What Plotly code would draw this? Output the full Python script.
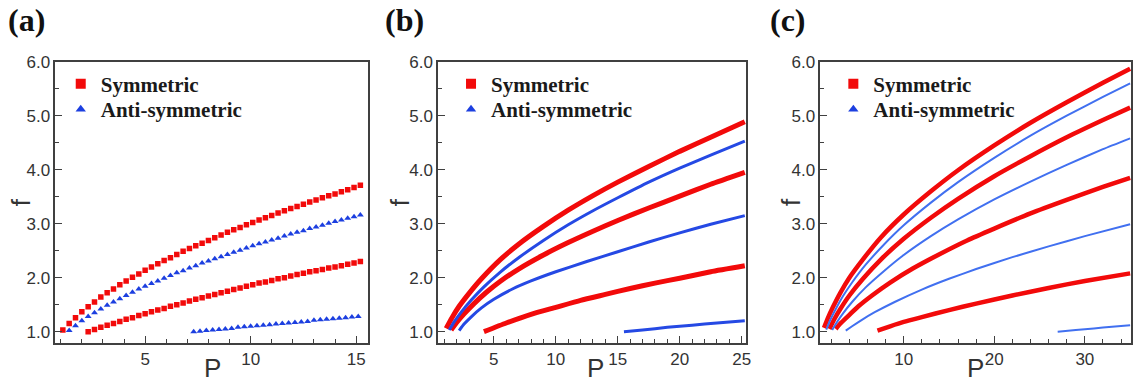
import plotly.graph_objects as go

W, H = 1144, 385

# ---------------- data ----------------
# panel (a): markers
A_SYM1_P = [1.1, 1.4, 1.7, 2.0, 2.3, 2.6, 2.9, 3.2, 3.5, 3.8, 4.1, 4.4, 4.7, 5.0, 5.3, 5.6,
            5.9, 6.2, 6.5, 6.8, 7.1, 7.4, 7.7, 8.0, 8.3, 8.6, 8.9, 9.2, 9.5, 9.8, 10.1, 10.4,
            10.7, 11.0, 11.3, 11.6, 11.9, 12.2, 12.5, 12.8, 13.1, 13.4, 13.7, 14.0, 14.3, 14.6,
            14.9, 15.2]
A_SYM1_F = [1.03, 1.15, 1.26, 1.37, 1.46, 1.55, 1.64, 1.72, 1.79, 1.87, 1.94, 2.01, 2.07, 2.14,
            2.20, 2.26, 2.32, 2.37, 2.43, 2.49, 2.54, 2.59, 2.64, 2.69, 2.74, 2.79, 2.84, 2.89,
            2.93, 2.98, 3.02, 3.07, 3.11, 3.15, 3.20, 3.24, 3.28, 3.32, 3.36, 3.40, 3.44, 3.48,
            3.52, 3.55, 3.59, 3.63, 3.67, 3.71]
A_ANTI1_P = [1.4, 1.7, 2.0, 2.3, 2.6, 2.9, 3.2, 3.5, 3.8, 4.1, 4.4, 4.7, 5.0, 5.3, 5.6, 5.9,
             6.2, 6.5, 6.8, 7.1, 7.4, 7.7, 8.0, 8.3, 8.6, 8.9, 9.2, 9.5, 9.8, 10.1, 10.4, 10.7,
             11.0, 11.3, 11.6, 11.9, 12.2, 12.5, 12.8, 13.1, 13.4, 13.7, 14.0, 14.3, 14.6,
             14.9, 15.2]
A_ANTI1_F = [1.02, 1.11, 1.20, 1.28, 1.35, 1.42, 1.49, 1.55, 1.61, 1.67, 1.73, 1.79, 1.84, 1.89,
             1.94, 1.99, 2.04, 2.09, 2.13, 2.18, 2.22, 2.27, 2.31, 2.35, 2.39, 2.43, 2.47, 2.51,
             2.55, 2.59, 2.63, 2.66, 2.70, 2.73, 2.77, 2.81, 2.84, 2.87, 2.91, 2.94, 2.97, 3.01,
             3.04, 3.07, 3.10, 3.13, 3.16]
A_SYM2_P = [2.3, 2.6, 2.9, 3.2, 3.5, 3.8, 4.1, 4.4, 4.7, 5.0, 5.3, 5.6, 5.9, 6.2, 6.5, 6.8,
            7.1, 7.4, 7.7, 8.0, 8.3, 8.6, 8.9, 9.2, 9.5, 9.8, 10.1, 10.4, 10.7, 11.0, 11.3,
            11.6, 11.9, 12.2, 12.5, 12.8, 13.1, 13.4, 13.7, 14.0, 14.3, 14.6, 14.9, 15.2]
A_SYM2_F = [1.00, 1.04, 1.08, 1.12, 1.15, 1.19, 1.23, 1.26, 1.30, 1.33, 1.37, 1.40, 1.43, 1.47,
            1.50, 1.53, 1.57, 1.60, 1.63, 1.66, 1.69, 1.72, 1.75, 1.78, 1.81, 1.84, 1.87, 1.90,
            1.92, 1.95, 1.98, 2.00, 2.03, 2.06, 2.08, 2.11, 2.13, 2.15, 2.18, 2.20, 2.22, 2.25,
            2.27, 2.30]
A_ANTI2_P = [7.3, 7.6, 7.9, 8.2, 8.5, 8.8, 9.1, 9.4, 9.7, 10.0, 10.3, 10.6, 10.9, 11.2, 11.5,
             11.8, 12.1, 12.4, 12.7, 13.0, 13.3, 13.6, 13.9, 14.2, 14.5, 14.8, 15.1]
A_ANTI2_F = [1.00, 1.01, 1.02, 1.03, 1.04, 1.05, 1.06, 1.08, 1.09, 1.10, 1.11, 1.12, 1.13, 1.14,
             1.15, 1.16, 1.17, 1.18, 1.19, 1.21, 1.22, 1.23, 1.24, 1.25, 1.26, 1.27, 1.28]

# panel (b): dense curves
B_SYM1_P = [1.15, 1.6, 2.2, 3.0, 4.0, 5.5, 7.0, 9.0, 11.0, 13.0, 15.0, 17.5, 20.0, 22.5, 25.25]
B_SYM1_F = [1.06, 1.25, 1.47, 1.71, 1.98, 2.33, 2.62, 2.95, 3.25, 3.52, 3.77, 4.06, 4.34, 4.60, 4.89]
B_ANTI1_P = [1.4, 1.8, 2.4, 3.2, 4.2, 5.5, 7.0, 9.0, 11.0, 13.0, 15.0, 17.5, 20.0, 22.5, 25.25]
B_ANTI1_F = [1.03, 1.18, 1.37, 1.59, 1.83, 2.10, 2.37, 2.69, 2.98, 3.24, 3.48, 3.77, 4.03, 4.27, 4.53]
B_SYM2_P = [1.55, 2.0, 2.6, 3.4, 4.4, 5.5, 7.0, 9.0, 11.0, 13.0, 15.0, 17.5, 20.0, 22.5, 25.25]
B_SYM2_F = [1.03, 1.17, 1.33, 1.52, 1.73, 1.93, 2.16, 2.42, 2.65, 2.86, 3.06, 3.29, 3.51, 3.73, 3.95]
B_ANTI2_P = [2.2, 2.6, 3.2, 4.0, 5.0, 6.5, 8.0, 10.0, 12.5, 15.0, 17.5, 20.0, 22.5, 25.25]
B_ANTI2_F = [1.02, 1.14, 1.28, 1.44, 1.60, 1.79, 1.94, 2.11, 2.30, 2.48, 2.66, 2.83, 2.99, 3.15]
B_SYM3_P = [4.2, 6.0, 8.0, 10.0, 12.0, 14.0, 16.0, 18.0, 20.0, 22.5, 25.25]
B_SYM3_F = [1.00, 1.16, 1.32, 1.45, 1.58, 1.69, 1.80, 1.90, 1.99, 2.11, 2.22]
B_ANTI3_P = [15.5, 17.0, 19.0, 21.0, 23.0, 25.25]
B_ANTI3_F = [1.00, 1.03, 1.08, 1.12, 1.16, 1.20]

# panel (c): dense curves
C_SYM1_P = [1.2, 1.6, 2.2, 3.0, 4.0, 5.5, 7.5, 10, 13, 16, 20, 24, 28, 32, 35]
C_SYM1_F = [1.07, 1.24, 1.46, 1.72, 2.00, 2.34, 2.75, 3.17, 3.60, 3.99, 4.45, 4.87, 5.25, 5.61, 5.87]
C_ANTI1_P = [1.45, 1.9, 2.5, 3.3, 4.3, 5.8, 7.8, 10, 13, 16, 20, 24, 28, 32, 35]
C_ANTI1_F = [1.04, 1.22, 1.42, 1.66, 1.91, 2.24, 2.61, 2.97, 3.39, 3.77, 4.22, 4.63, 5.00, 5.35, 5.60]
C_SYM2_P = [1.8, 2.3, 3.0, 4.0, 5.5, 7.5, 10, 13, 16, 20, 24, 28, 32, 35]
C_SYM2_F = [1.05, 1.22, 1.42, 1.67, 1.98, 2.34, 2.72, 3.11, 3.46, 3.88, 4.25, 4.60, 4.92, 5.15]
C_ANTI2_P = [2.1, 2.6, 3.3, 4.3, 5.8, 7.8, 10, 13, 16, 20, 24, 28, 32, 35]
C_ANTI2_F = [1.03, 1.17, 1.34, 1.55, 1.82, 2.12, 2.42, 2.77, 3.08, 3.45, 3.78, 4.09, 4.38, 4.58]
C_SYM3_P = [2.5, 3.0, 3.8, 5.0, 6.5, 8.5, 11, 14, 17, 20, 24, 28, 32, 35]
C_SYM3_F = [1.05, 1.15, 1.28, 1.47, 1.67, 1.91, 2.17, 2.44, 2.69, 2.91, 3.19, 3.44, 3.68, 3.85]
C_ANTI3_P = [3.6, 4.3, 5.3, 6.8, 9, 12, 15, 18, 22, 26, 30, 35]
C_ANTI3_F = [1.02, 1.10, 1.21, 1.36, 1.55, 1.78, 1.98, 2.16, 2.38, 2.58, 2.77, 2.99]
C_SYM4_P = [7.1, 8.5, 10, 12, 15, 18, 22, 26, 30, 35]
C_SYM4_F = [1.02, 1.10, 1.18, 1.27, 1.40, 1.52, 1.67, 1.81, 1.94, 2.08]
C_ANTI4_P = [27, 29, 31, 33, 35]
C_ANTI4_F = [1.00, 1.03, 1.06, 1.09, 1.12]

PANEL_LABELS = ["(a)", "(b)", "(c)"]
LEGEND_NAMES = ["Symmetric", "Anti-symmetric"]
X_TICKS = [[5, 10, 15], [5, 10, 15, 20, 25], [10, 20, 30]]
Y_TICKS = [1, 2, 3, 4, 5, 6]

# ---------------- styling ----------------
RED = "#f20a0a"
BLUE = "#1c3fe0"
BLUE_B = "#2549e4"
BLUE_LIGHT = "#4170f0"
SANS = "Liberation Sans, Arial, sans-serif"
SERIF = "Liberation Serif, Times New Roman, serif"
AX = "#404040"

fig = go.Figure()

def markers(x, y, xa, ya, color, symbol, size):
    fig.add_trace(go.Scatter(x=x, y=y, mode="markers", xaxis=xa, yaxis=ya, showlegend=False,
                             marker=dict(color=color, symbol=symbol, size=size, line=dict(width=0))))

def curve(x, y, xa, ya, color, width):
    fig.add_trace(go.Scatter(x=x, y=y, mode="lines", xaxis=xa, yaxis=ya, showlegend=False,
                             line=dict(color=color, width=width, shape="spline", smoothing=0.5)))

# panel (a)
markers(A_SYM1_P, A_SYM1_F, "x", "y", RED, "square", 5.5)
markers(A_SYM2_P, A_SYM2_F, "x", "y", RED, "square", 5.5)
markers(A_ANTI1_P, A_ANTI1_F, "x", "y", BLUE, "triangle-up", 6)
markers(A_ANTI2_P, A_ANTI2_F, "x", "y", BLUE, "triangle-up", 6)

# panel (b)
for px_, fy in [(B_SYM1_P, B_SYM1_F), (B_SYM2_P, B_SYM2_F), (B_SYM3_P, B_SYM3_F)]:
    curve(px_, fy, "x2", "y2", RED, 5)
for px_, fy in [(B_ANTI1_P, B_ANTI1_F), (B_ANTI2_P, B_ANTI2_F), (B_ANTI3_P, B_ANTI3_F)]:
    curve(px_, fy, "x2", "y2", BLUE_B, 3)

# panel (c)
for px_, fy in [(C_SYM1_P, C_SYM1_F), (C_SYM2_P, C_SYM2_F), (C_SYM3_P, C_SYM3_F), (C_SYM4_P, C_SYM4_F)]:
    curve(px_, fy, "x3", "y3", RED, 4.5)
for px_, fy in [(C_ANTI1_P, C_ANTI1_F), (C_ANTI2_P, C_ANTI2_F), (C_ANTI3_P, C_ANTI3_F), (C_ANTI4_P, C_ANTI4_F)]:
    curve(px_, fy, "x3", "y3", BLUE_LIGHT, 2)

# legend entries: each entry in its own legend box so the rows sit where the picture has them
LEG_X = [61, 453, 837]
LEG_Y = [77, 103]
legend_font = dict(family=SERIF, size=21, color="#1a1a1a", weight="bold")
legend_layout = {}
k = 0
for i, (xa, ya) in enumerate([("x", "y"), ("x2", "y2"), ("x3", "y3")]):
    for j in range(2):
        k += 1
        lg = "legend" if k == 1 else f"legend{k}"
        fig.add_trace(go.Scatter(x=[None], y=[None], mode="markers", xaxis=xa, yaxis=ya,
                                 name=LEGEND_NAMES[j], legend=lg,
                                 marker=dict(color=RED if j == 0 else BLUE,
                                             symbol="square" if j == 0 else "triangle-up",
                                             size=10 if j == 0 else 9)))
        legend_layout[lg] = dict(x=LEG_X[i] / W, y=1 - LEG_Y[j] / H, xanchor="left",
                                 yanchor="middle", bgcolor="rgba(0,0,0,0)", font=legend_font,
                                 itemwidth=30, borderwidth=0)

# ---------------- layout ----------------
XDOM = [[55.7 / W, 370 / W], [440 / W, 749.3 / W], [824 / W, 1136 / W]]
YDOM = [1 - 342 / H, 1 - 54 / H]
XRANGES = [[0.75, 15.58], [0.5, 25.35], [0.8, 35.1]]
XMINOR = [1, 1, 2]

def xaxis(i):
    return dict(domain=XDOM[i], range=XRANGES[i], anchor="y" if i == 0 else f"y{i+1}",
                showline=True, mirror=True, linecolor=AX, linewidth=1.6,
                ticks="inside", ticklen=7, tickwidth=1.2, tickcolor=AX,
                tickvals=X_TICKS[i], ticktext=[str(v) for v in X_TICKS[i]],
                minor=dict(ticks="inside", ticklen=4, tickwidth=1, tickcolor=AX, dtick=XMINOR[i]),
                showgrid=False, zeroline=False,
                tickfont=dict(family=SANS, size=17, color="#333"))

def yaxis(i):
    return dict(domain=YDOM, range=[0.79, 6.0], anchor="x" if i == 0 else f"x{i+1}",
                showline=True, mirror=True, linecolor=AX, linewidth=1.6,
                ticks="inside", ticklen=7, tickwidth=1.2, tickcolor=AX,
                tickvals=Y_TICKS, ticktext=[f"{v:.1f}" for v in Y_TICKS],
                minor=dict(ticks="inside", ticklen=4, tickwidth=1, tickcolor=AX, dtick=0.5),
                showgrid=False, zeroline=False,
                tickfont=dict(family=SANS, size=17, color="#333"))

layout = dict(width=W, height=H, margin=dict(l=0, r=0, t=0, b=0),
              paper_bgcolor="white", plot_bgcolor="white", showlegend=True)
for i in range(3):
    sfx = "" if i == 0 else str(i + 1)
    layout["xaxis" + sfx] = xaxis(i)
    layout["yaxis" + sfx] = yaxis(i)
layout.update(legend_layout)
fig.update_layout(**layout)

# panel labels, axis titles
PL_X = [26.7, 405.8, 791.7]
P_X = [213.3, 598.3, 980]
F_X = [21, 401.7, 795]
ann = []
for i in range(3):
    ann.append(dict(text=f"<b>{PANEL_LABELS[i]}</b>", x=PL_X[i] / W, y=1 - 11 / H, xref="paper",
                    yref="paper", showarrow=False, xanchor="center", yanchor="middle",
                    font=dict(family=SERIF, size=32, color="#111")))
    ann.append(dict(text="P", x=P_X[i] / W, y=1 - 368 / H, xref="paper", yref="paper",
                    showarrow=False, xanchor="center", yanchor="middle",
                    font=dict(family=SANS, size=26, color="#333")))
    ann.append(dict(text="f", x=F_X[i] / W, y=1 - 198 / H, xref="paper", yref="paper",
                    showarrow=False, xanchor="center", yanchor="middle", textangle=-90,
                    font=dict(family=SANS, size=26, color="#333")))
fig.update_layout(annotations=ann)

fig.write_html("out.html")
